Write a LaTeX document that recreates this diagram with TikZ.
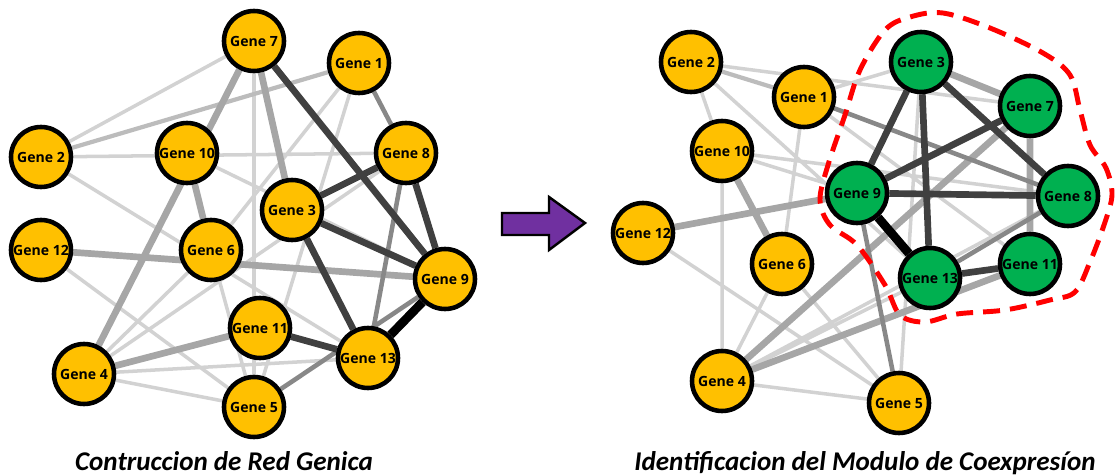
\documentclass[tikz,border=0pt]{standalone}
\usepackage{fontspec}
\setmainfont{Open Sans}
\newfontfamily\captionfont{Carlito}
\usepackage{tikz}
\usetikzlibrary{backgrounds}
\definecolor{genegold}{RGB}{255, 192, 0}
\definecolor{modgreen}{RGB}{0, 176, 80}
\definecolor{shiftpurple}{RGB}{112, 48, 160}
\definecolor{linkfaint}{RGB}{210, 210, 210}
\definecolor{linklight}{RGB}{188, 188, 188}
\definecolor{linkmid}{RGB}{166, 166, 166}
\definecolor{linkgray}{RGB}{136, 136, 136}
\definecolor{linkdark}{RGB}{64, 64, 64}

\begin{document}
\begin{tikzpicture}[
    x=0.02cm, y=-0.02cm,
    gene/.style={circle, draw=black, line width=2.6pt, fill=genegold,
                 minimum size=1.2cm, inner sep=0pt,
                 font=\bfseries\fontsize{8}{9}\selectfont},
    module/.style={gene, fill=modgreen},
    faintlink/.style={line width=2pt, draw=linkfaint},
    lightlink/.style={line width=2.4pt, draw=linklight},
    midlink/.style={line width=3.8pt, draw=linkmid},
    graylink/.style={line width=2.6pt, draw=linkgray},
    darklink/.style={line width=3.8pt, draw=linkdark},
    blacklink/.style={line width=5pt, draw=black},
    caption/.style={anchor=base, font=\captionfont\bfseries\itshape\fontsize{15.4}{18}\selectfont}
]
    \useasboundingbox (0,0) rectangle (1116,476);

    % gene network before module detection
    \node[gene] (a7) at (254,41) {Gene 7};
    \node[gene] (a1) at (359,63) {Gene 1};
    \node[gene] (a2) at (41,157) {Gene 2};
    \node[gene] (a10) at (187,153) {Gene 10};
    \node[gene] (a8) at (406,153) {Gene 8};
    \node[gene] (a3) at (292,210) {Gene 3};
    \node[gene] (a12) at (41,250) {Gene 12};
    \node[gene] (a6) at (211,250) {Gene 6};
    \node[gene] (a9) at (445,279) {Gene 9};
    \node[gene] (a11) at (260,328) {Gene 11};
    \node[gene] (a13) at (368,358) {Gene 13};
    \node[gene] (a4) at (84,374) {Gene 4};
    \node[gene] (a5) at (254,407) {Gene 5};

    % same genes, module highlighted
    \node[gene] (b2) at (691,62) {Gene 2};
    \node[gene] (b1) at (804,97) {Gene 1};
    \node[module] (b3) at (921,62) {Gene 3};
    \node[module] (b7) at (1030,106) {Gene 7};
    \node[gene] (b10) at (722,151) {Gene 10};
    \node[module] (b9) at (857,193) {Gene 9};
    \node[module] (b8) at (1068,196) {Gene 8};
    \node[gene] (b12) at (643,233) {Gene 12};
    \node[gene] (b6) at (782,264) {Gene 6};
    \node[module] (b13) at (930,278) {Gene 13};
    \node[module] (b11) at (1030,264) {Gene 11};
    \node[gene] (b4) at (722,381) {Gene 4};
    \node[gene] (b5) at (899,403) {Gene 5};

    \begin{scope}[on background layer]
        % left network edges
        \draw[faintlink] (a7) -- (a2) (a2) -- (a8) (a2) -- (a13) (a12) -- (a5)
            (a6) -- (a5) (a7) -- (a5) (a1) -- (a6) (a1) -- (a5) (a10) -- (a9)
            (a4) -- (a8) (a4) -- (a6) (a4) -- (a13) (a4) -- (a5);
        \draw[lightlink] (a2) -- (a1);
        \draw[midlink] (a7) -- (a4) (a7) -- (a3) (a12) -- (a9) (a4) -- (a11)
            (a10) -- (a6);
        \draw[graylink] (a1) -- (a8) (a8) -- (a13) (a5) -- (a9);
        \draw[darklink] (a7) -- (a9) (a8) -- (a3) (a8) -- (a9) (a3) -- (a9)
            (a3) -- (a13) (a11) -- (a13);
        \draw[blacklink] (a9) -- (a13);

        % right network edges
        \draw[faintlink] (b2) -- (b7) (b2) -- (b10) (b2) -- (b13) (b1) -- (b3)
            (b1) -- (b11) (b1) -- (b6) (b10) -- (b8) (b10) -- (b9) (b10) -- (b4)
            (b12) -- (b5) (b6) -- (b4) (b6) -- (b5) (b4) -- (b8) (b4) -- (b13)
            (b4) -- (b5) (b3) -- (b5);
        \draw[lightlink] (b2) -- (b1);
        \draw[midlink] (b3) -- (b7) (b10) -- (b6) (b12) -- (b9) (b4) -- (b7)
            (b4) -- (b11) (b7) -- (b11);
        \draw[graylink] (b1) -- (b8) (b9) -- (b5) (b13) -- (b8);
        \draw[darklink] (b3) -- (b9) (b3) -- (b8) (b3) -- (b13) (b9) -- (b7)
            (b9) -- (b8) (b13) -- (b11);
        \draw[blacklink] (b9) -- (b13);
    \end{scope}

    % module outline
    \draw[red, line width=2.8pt, dash pattern=on 0.34cm off 0.2cm]
        plot[smooth cycle, tension=0.55] coordinates {
            (943,13) (990,28) (1043,53) (1070,75) (1080,110) (1090,145)
            (1106,168) (1112,195) (1104,225) (1090,262) (1075,292) (1050,300)
            (1005,310) (957,314) (925,322) (900,315) (885,285) (857,245)
            (830,225) (820,200) (828,165) (845,115) (860,70) (885,30) (910,17)};

    % step arrow
    \draw[line width=1.4pt, fill=shiftpurple, line join=miter]
        (502,213) -- (549,213) -- (549,197) -- (585,223) -- (549,250)
        -- (549,235) -- (502,235) -- cycle;

    \node[caption] (leftcap) at (224,470) {Contruccion de Red Genica};
    \node[caption] (rightcap) at (865,470) {Identificacion del Modulo de Coexpresíon};
\end{tikzpicture}
\end{document}
